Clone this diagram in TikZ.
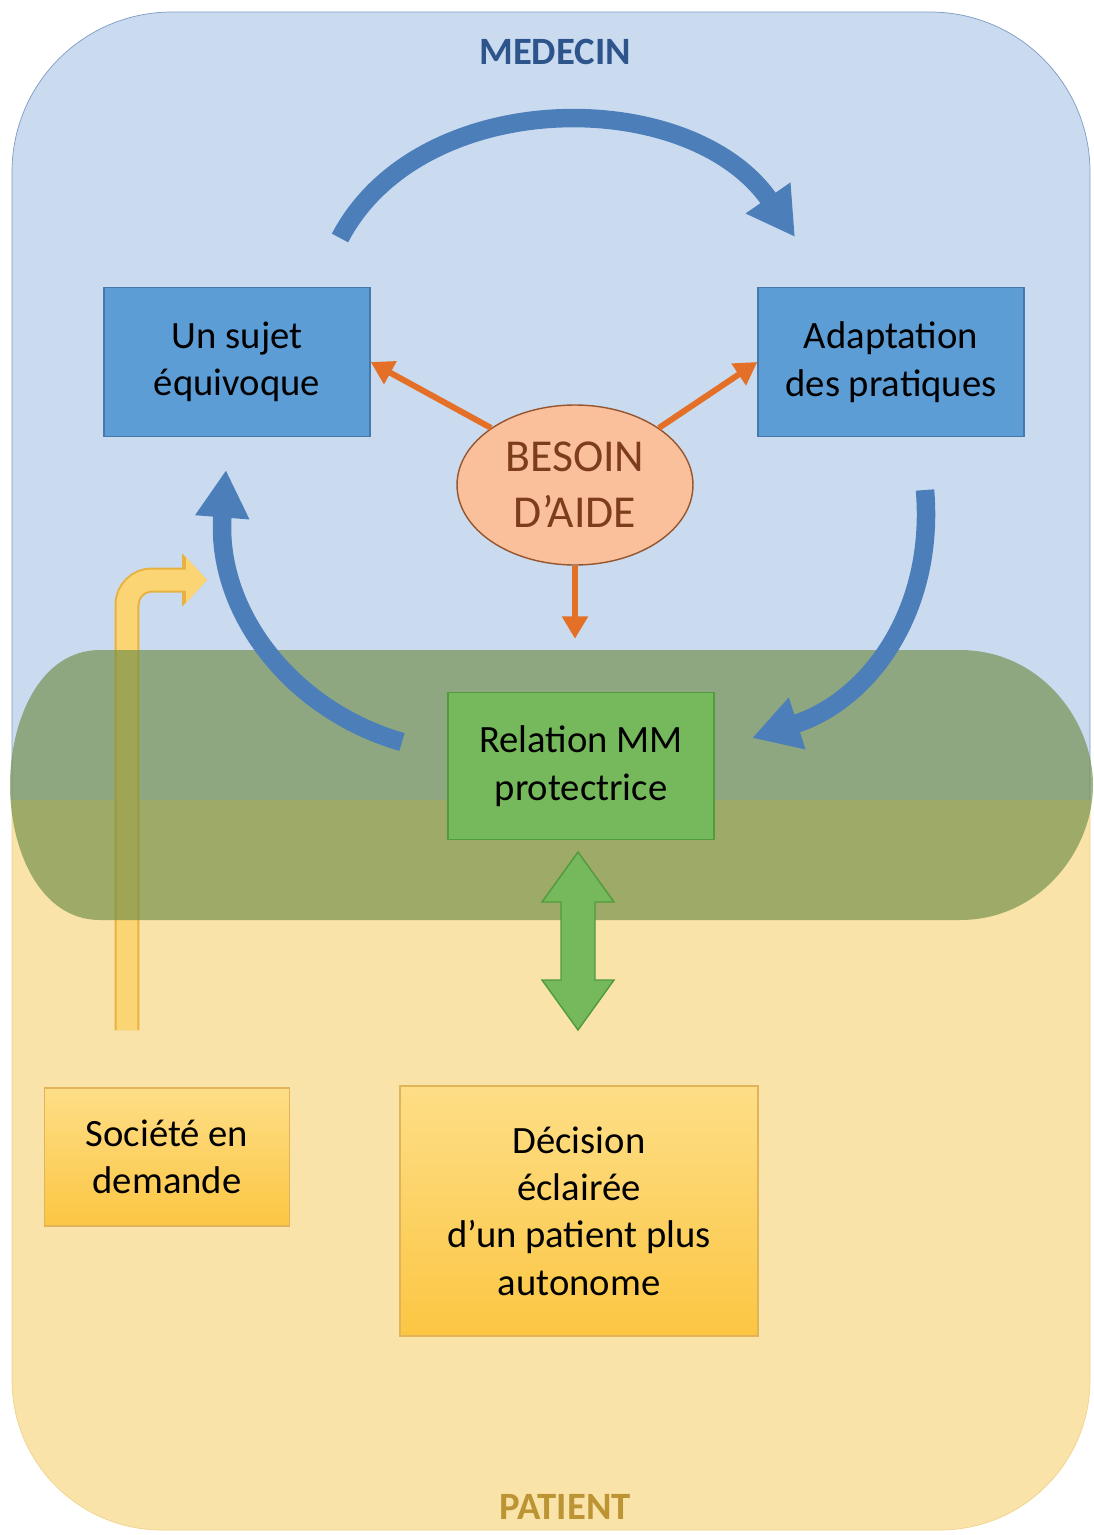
\documentclass[tikz,border=0pt]{standalone}
\usepackage{fontspec}
\setmainfont{Carlito}
\usetikzlibrary{shapes, arrows.meta}

\definecolor{medbg}{RGB}{202,219,240}
\definecolor{medline}{RGB}{125,155,195}
\definecolor{patbg}{RGB}{249,227,168}
\definecolor{patline}{RGB}{240,212,140}
\definecolor{capsulegreen}{RGB}{110,140,70}
\definecolor{cycleblue}{RGB}{76,126,186}
\definecolor{boxblue}{RGB}{93,157,213}
\definecolor{boxblueline}{RGB}{70,120,170}
\definecolor{needfill}{RGB}{250,192,155}
\definecolor{needline}{RGB}{150,85,45}
\definecolor{needtext}{RGB}{125,60,30}
\definecolor{needorange}{RGB}{228,112,40}
\definecolor{relfill}{RGB}{118,184,92}
\definecolor{relline}{RGB}{80,155,60}
\definecolor{boxyellow}{RGB}{252,198,66}
\definecolor{boxyellowtop}{RGB}{253,222,135}
\definecolor{boxyellowline}{RGB}{225,180,90}
\definecolor{socfill}{RGB}{251,212,115}
\definecolor{socline}{RGB}{232,178,64}
\definecolor{medtext}{RGB}{45,85,140}
\definecolor{pattext}{RGB}{188,148,52}

\begin{document}
\begin{tikzpicture}[x=0.02cm, y=-0.02cm,
  font=\fontsize{22}{27}\selectfont,
  bluebox/.style={draw=boxblueline, fill=boxblue, line width=0.8pt,
    minimum width=5.32cm, minimum height=2.98cm, align=center},
  yellowbox/.style={draw=boxyellowline, top color=boxyellowtop,
    bottom color=boxyellow, line width=0.8pt, align=center},
  cyclearrow/.style={cycleblue, line width=0.37cm,
    -{Triangle[length=0.95cm, width=1.02cm]}},
  needarrow/.style={needorange, line width=0.12cm,
    -{Triangle[length=0.45cm, width=0.5cm]}},
  title/.style={font=\bfseries\fontsize{22}{26}\selectfont}]

\useasboundingbox (0,0) rectangle (1093,1535);

% zones
\fill[medbg, rounded corners=3.2cm] (12,800) -- (12,12) -- (1090,12) -- (1090,800);
\draw[medline, rounded corners=3.2cm] (12,800) -- (12,12) -- (1090,12) -- (1090,800);
\fill[patbg, rounded corners=3cm] (1090,800) -- (1090,1530) -- (12,1530) -- (12,800);
\draw[patline, rounded corners=3cm] (1090,800) -- (1090,1530) -- (12,1530) -- (12,800);

% societe -> sujet
\coordinate (socfoot) at (127,1030);
\coordinate (soctip) at (207,580);
\draw[socline, line width=0.5cm, rounded corners=0.5cm,
  -{Triangle[length=0.5cm, width=1.04cm]}] (socfoot) |- (soctip);
\draw[socfill, line width=0.42cm, rounded corners=0.5cm,
  -{Triangle[length=0.42cm, width=0.9cm]}] (socfoot) |- (soctip);

% relation band
\fill[capsulegreen, fill opacity=0.65]
  (100,650) -- (960,650) .. controls (1040,650) and (1093,720) .. (1093,785)
  .. controls (1093,850) and (1040,920) .. (960,920) -- (100,920)
  .. controls (40,920) and (10,850) .. (10,785)
  .. controls (10,720) and (40,650) .. (100,650) -- cycle;

% cycle
\coordinate (c1a) at (340,238);
\coordinate (c1b) at (795,237);
\coordinate (c2a) at (925,490);
\coordinate (c2b) at (752,738);
\coordinate (c3a) at (402,742);
\coordinate (c3b) at (226,470);
\draw[cyclearrow] (c1a) .. controls (420,85) and (690,85) .. (c1b);
\draw[cyclearrow] (c2a) .. controls (935,610) and (870,700) .. (c2b);
\draw[cyclearrow] (c3a) .. controls (290,710) and (215,610) .. (c3b);

\node (medecin) at (555,52) [title, text=medtext] {MEDECIN};
\node (patient) at (565,1507) [title, text=pattext] {PATIENT};

\node (sujet) at (237,362) [bluebox] {Un sujet\\équivoque};
\node (adapt) at (891,362) [bluebox] {Adaptation\\des pratiques};

\node (besoin) at (575,485) [draw=needline, fill=needfill, ellipse, line width=0.8pt,
  minimum width=4.72cm, minimum height=3.2cm, inner sep=0pt, align=center,
  text=needtext, font=\fontsize{26}{32}\selectfont] {BESOIN\\D’AIDE};

\node (relation) at (581,766) [draw=relline, fill=relfill, line width=0.8pt,
  minimum width=5.32cm, minimum height=2.94cm, align=center] {Relation MM\\protectrice};

\node (societe) at (167,1157) [yellowbox, minimum width=4.9cm, minimum height=2.76cm]
  {Société en\\demande};
\node (decision) at (579,1211) [yellowbox, minimum width=7.16cm, minimum height=5cm]
  {Décision\\éclairée\\d’un patient plus\\autonome};

\draw[needarrow] (besoin.north west) -- (sujet.east);
\draw[needarrow] (besoin.north east) -- (adapt.west);
\draw[needarrow, shorten >=1.06cm] (besoin.south) -- (besoin.south |- relation.north);

% relation <-> decision
\coordinate (link) at (578,941);
\draw[relline, fill=relfill, line width=0.8pt, shift={(link)}]
  (0,-89) -- (36,-39) -- (17,-39) -- (17,39) -- (36,39) -- (0,89)
  -- (-36,39) -- (-17,39) -- (-17,-39) -- (-36,-39) -- cycle;

\end{tikzpicture}
\end{document}
